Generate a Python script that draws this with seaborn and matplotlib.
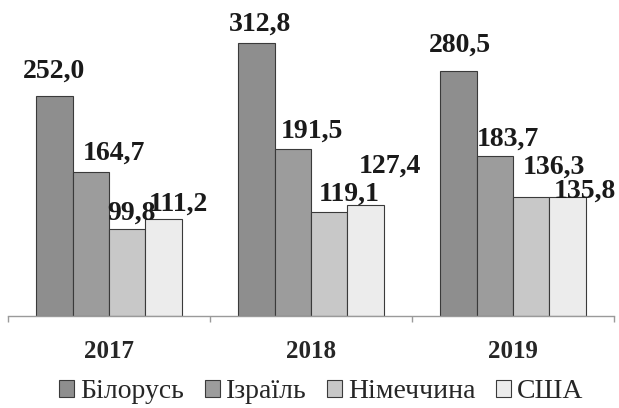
import pandas as pd
import seaborn as sns
import matplotlib.pyplot as plt
from matplotlib.ticker import FixedLocator

# Дані з діаграми
years = ['2017', '2018', '2019']
countries = ['Білорусь', 'Ізраїль', 'Німеччина', 'США']
belarus = [252.0, 312.8, 280.5]
israel = [164.7, 191.5, 183.7]
germany = [99.8, 119.1, 136.3]
usa = [111.2, 127.4, 135.8]

colors = ['#8e8e8e', '#9c9c9c', '#c8c8c8', '#ececec']
# зсув підписів (пікселі) відносно верху стовпця, як у оригіналі
label_offsets = [
    [(0, 18), (4, 12), (1, 19)],
    [(23, 13), (19, 11), (13, 10)],
    [(4, 9), (20, 11), (23, 23)],
    [(15, 8), (24, 32), (17, 0)],
]

rows = []
for country, vals in zip(countries, [belarus, israel, germany, usa]):
    for y, v in zip(years, vals):
        rows.append({'year': y, 'country': country, 'value': v})
df = pd.DataFrame(rows)

sns.set_theme(style='white')
plt.rcParams['font.family'] = ['Liberation Serif', 'DejaVu Serif']

fig = plt.figure(figsize=(6.19, 4.08), dpi=100)
ax = fig.add_axes([8 / 619, 92 / 408, 606 / 619, 305.6 / 408])

sns.barplot(data=df, x='year', y='value', hue='country', order=years,
            hue_order=countries, palette=colors, width=0.72,
            edgecolor='#3a3a3a', linewidth=0.8, ax=ax)

ax.set_xlim(-0.5, 2.5)
ax.set_ylim(0, 350)
ax.set_xlabel('')
ax.set_ylabel('')
ax.set_yticks([])

for sp in ['top', 'left', 'right']:
    ax.spines[sp].set_visible(False)
ax.spines['bottom'].set_color('#9a9a9a')
ax.spines['bottom'].set_linewidth(1.0)

ax.tick_params(axis='x', which='major', length=0, pad=17)
ax.xaxis.set_minor_locator(FixedLocator([-0.5, 0.5, 1.5, 2.5]))
ax.tick_params(axis='x', which='minor', bottom=True, length=4,
               color='#9a9a9a', width=1.0)
for lbl in ax.get_xticklabels():
    lbl.set_fontsize(18)
    lbl.set_fontweight('bold')

for i, cont in enumerate(ax.containers):
    for j, bar in enumerate(cont):
        h = bar.get_height()
        dx, dy = label_offsets[i][j]
        txt = f'{h:.1f}'.replace('.', ',')
        ax.annotate(txt, xy=(bar.get_x() + bar.get_width() / 2, h),
                    xytext=(dx, dy), textcoords='offset pixels',
                    ha='center', va='baseline', fontsize=20,
                    fontweight='bold', color='#1a1a1a')

handles, labels = ax.get_legend_handles_labels()
ax.get_legend().remove()
fig.legend(handles, labels, loc='center', bbox_to_anchor=(0.519, 0.04),
           ncol=4, frameon=False, prop={'family': 'Liberation Serif', 'size': 20},
           handlelength=0.55, handleheight=0.55, handletextpad=0.2,
           columnspacing=0.75, borderpad=0)

fig.savefig('out.png', dpi=100)
